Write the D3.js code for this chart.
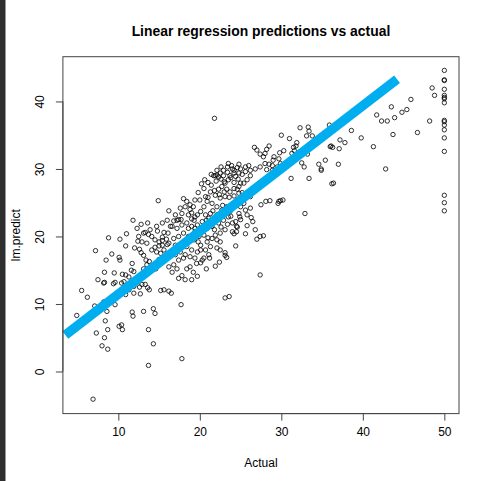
<!DOCTYPE html>
<html><head><meta charset="utf-8">
<script src="https://cdn.jsdelivr.net/npm/d3@7"></script>
<style>
body{margin:0;background:#fff}
svg{display:block}
text{font-family:"Liberation Sans",Arial,Helvetica,sans-serif;fill:#000}
</style>
</head><body>
<svg id="chart" width="482" height="481"></svg>
<script>
// Actual medv values (x) and linear-model predictions (y)
const actual = [
21.8,32.3,33.3,33.4,33.1,33.8,30.0,31.0,35.9,36.0,35.1,31.9,31.8,31.5,31.6,31.3,30.3,29.8,28.5,28.2,28.0,26.7,27.0,27.4,27.8,
29.1,29.0,29.7,29.9,28.5,28.9,29.5,33.2,32.5,32.8,34.6,34.9,35.4,23.5,23.4,24.0,24.8,25.0,22.9,
50,50,50,50,50,50,50,50,50,50,50,50,50,50,50,50,50,
48.5,48.8,45.9,45.4,44.8,43.5,43.9,43.0,42.3,41.7,48.2,46.7,43.7,41.3,39.8,38.6,37.2,37.8,36.3,37.1,36.1,37.0,42.8,36.2,36.4,
31.2,33.4,34.9,26.2,27.5,28.1,28.6,29.6,29.9,30.2,29.7,32.9,26.2,26.3,26.5,27.0,27.4,27.8,27.4,21.9,19.7,
24.6,24.5,24.2,24.0,22.1,22.5,22.5,23.1,23.3,23.1,20.5,20.3,20.1,25.0,24.9,24.8,26.2,24.5,20.5,20.7,21.7,22.1,22.3,
14.9,11.8,18.4,19.4,7.2,8.5,10.9,10.1,10.2,8.3,9.5,7.5,8.3,9.6,11.7,11.6,11.9,10.9,10.5,11.3,10.7,
13.1,13.3,13.7,12.4,12.0,12.6,12.8,13.1,13.4,13.8,13.5,13.1,14.1,14.5,15.0,15.4,14.7,15.2,15.6,15.4,15.0,15.4,15.9,
16.1,16.4,16.8,17.4,17.7,18.8,19.0,19.2,19.4,16.2,16.8,17.4,18.0,16.6,17.2,17.8,18.4,18.8,19.2,18.2,17.4,19.0,
5.5,6.2,4.9,7.1,8.2,8.6,9.6,8.4,8.7,7.3,8.3,8.0,8.7,6.9,10.1,10.4,10.5,11.7,11.8,13.1,14.3,14.5,13.7,14.3,13.7,17.7,17.8,
11.9,12.7,15.2,15.6,16.2,16.5,13.3,13.6,13.8,10.4,9.4,8.2,10.9,11.3,11.9,12.6,12.9,23.1,23.6,
21.9,22.5,22.9,23.4,23.7,24.2,24.8,24.7,24.2,23.5,23.1,22.7,22.3,23.3,23.7,24.2,24.8,25.4,25.8,21.9,22.5,23.1,21.3,20.9,20.5,
21.5,22.1,20.1,20.7,19.7,21.1,20.3,19.7,21.5,22.3,22.9,23.5,23.7,24.0,23.1,22.5,21.9,20.5,19.9,20.9,20.1,21.3,20.7,19.7,
25.0,25.4,25.6,25.8,25.0,24.6,26.0,24.8,
18.8,18.2,17.8,18.6,19.3,17.2,16.6,17.2,17.8,18.4,19.0,19.4,18.0,18.6,19.3,17.4,16.8,16.2,17.0,17.8,18.4,19.0,17.6,18.2,17.0,
16.4,15.8,18.8,19.4,14.1,14.5,13.5,13.9,14.7,15.4,16.0,12.5,12.3,12.9,
28.0,27.4,26.8,26.2,25.6,28.9,28.2,24.2,22.1,
22.7,23.3,22.1,21.3,21.7,20.9,20.3,21.5,21.1,22.1,20.1,
21.0,21.4,22.0,22.6,23.0,23.8,24.4,25.2,25.6,26.0,24.6,23.9,22.6,21.4,20.6,20.2,19.8,20.0,21.0,21.8,22.4,23.0,23.6,24.2,24.6,
25.2,25.0,22.8,23.4,24.0,21.6,20.8,19.4,19.0,18.6,19.8,21.0,20.6,21.8,22.6,23.4,24.4,23.8,22.2,18.4,17.6,16.8,16.0,15.6,14.8,
17.0,17.6,18.0,16.2,13.6,12.8,11.0,10.2,9.2,8.8,14.6,15.0,19.6,20.8,22.4,21.2,24.4,25.6,25.8,26.8
];
const predicted = [
37.5,36.1,36.2,35.6,34.9,34.9,35.0,34.5,36.5,33.3,34.7,33.9,33.4,33.2,32.7,32.3,32.7,32.4,33.4,32.9,32.3,33.2,32.8,32.2,31.8,
31.8,31.3,31.5,30.8,30.7,30.5,30.3,32.2,30.9,30.3,30.7,30.0,31.3,30.8,30.3,30.0,30.7,30.0,29.8,
44.6,43.2,43.1,41.8,40.9,40.6,40.4,39.8,37.2,37.0,36.5,35.8,34.6,32.6,26.1,25.0,23.8,
42.0,40.9,40.3,38.8,38.4,39.2,37.6,37.1,37.1,38.0,37.1,35.4,35.1,33.3,34.6,35.7,34.3,33.9,33.2,33.0,33.4,30.7,30.0,27.8,27.9,
28.6,28.6,29.8,29.0,24.7,25.2,25.3,24.9,25.3,25.4,25.2,23.4,24.2,22.8,22.2,19.6,20.0,20.1,14.3,15.6,14.1,
21.4,20.7,20.4,20.7,19.5,19.2,18.0,17.6,16.9,17.2,16.8,16.5,16.1,22.5,22.9,23.4,25.9,21.5,27.1,25.9,29.0,29.1,28.8,
25.3,22.4,25.2,25.4,17.9,16.5,18.6,16.9,16.5,14.7,14.6,13.6,13.2,13.2,16.0,15.0,14.8,14.3,14.4,14.0,13.3,
20.5,20.6,20.3,19.3,18.3,18.1,17.6,17.2,16.5,16.3,15.8,15.2,18.0,18.4,18.6,18.7,17.7,17.5,18.0,19.9,19.2,19.4,19.6,
20.5,21.5,22.3,22.5,22.5,24.0,23.5,24.4,22.9,15.5,15.8,16.5,16.8,14.7,15.2,14.2,15.2,15.5,14.7,13.6,13.8,13.6,
12.0,11.0,8.3,9.7,10.3,8.9,9.9,7.5,6.2,5.7,5.0,3.8,3.3,-4.1,6.7,6.9,6.2,8.8,8.2,8.9,9.3,8.6,6.2,4.1,0.9,9.9,1.9,
11.6,11.5,12.0,12.1,11.9,11.6,12.9,12.4,12.1,13.1,13.0,13.1,11.4,12.1,12.6,12.5,12.9,10.9,11.1,
29.0,29.4,29.0,29.5,29.0,29.4,29.4,28.5,28.0,28.4,27.9,27.4,27.0,27.0,26.6,27.1,27.4,27.9,28.4,26.1,25.7,25.9,26.6,25.2,24.4,
24.9,24.4,23.7,23.2,23.2,22.7,22.2,21.7,21.5,22.0,22.4,22.9,23.7,22.0,21.0,20.5,20.2,20.2,20.0,19.2,18.7,18.5,18.0,17.7,
25.5,24.9,23.9,23.2,24.4,25.2,26.1,26.4,
24.7,24.4,23.4,23.2,22.4,22.4,21.5,21.2,21.7,22.0,21.5,20.7,20.5,20.0,19.5,20.0,19.7,19.0,18.7,19.0,18.5,18.0,17.7,17.3,17.3,
17.5,16.8,17.0,16.8,20.0,19.5,19.0,21.0,21.5,22.0,22.4,20.0,21.2,19.2,
30.8,30.3,30.0,29.8,30.3,29.8,29.9,29.8,29.8,
23.9,24.4,23.2,23.4,22.4,21.2,20.7,19.7,17.3,18.3,18.0,
28.0,27.6,28.2,28.5,28.1,28.7,28.9,29.2,29.6,30.5,30.2,30.5,30.3,29.2,28.4,27.8,26.5,25.4,25.8,26.8,26.2,26.6,25.8,26.0,27.0,
26.5,27.9,24.6,24.2,24.8,23.8,22.4,21.2,22.6,21.2,19.2,19.8,21.0,21.0,21.4,21.8,22.2,23.0,23.0,19.4,18.4,18.0,18.8,20.6,20.8,
23.2,24.2,25.6,23.8,22.0,21.8,20.4,19.6,17.4,19.8,15.2,16.6,16.0,15.2,16.2,16.8,18.6,20.4,21.6,21.0
];
const xTicks = [10, 20, 30, 40, 50];
const yTicks = [0, 10, 20, 30, 40];
const xDataRange = [5, 50];
const yDataRange = [-4.28, 44.67];
const refLineX = [3.5, 44.2];
const refLineY = [5.4, 43.3];

const svg = d3.select("#chart");
const W = 482, H = 481;
const box = {left: 62.9, right: 459, top: 56.7, bottom: 413.6};

function ext(r){ const d = (r[1]-r[0])*0.04; return [r[0]-d, r[1]+d]; }
const x = d3.scaleLinear().domain(ext(xDataRange)).range([box.left, box.right]);
const y = d3.scaleLinear().domain(ext(yDataRange)).range([box.bottom, box.top]);

// screenshot left edge strip
svg.append("rect").attr("x",0).attr("y",0).attr("width",5.5).attr("height",H).attr("fill","#2e2e2e");

// points
const pts = actual.map((a,i)=>({a, p: predicted[i]}));
svg.append("g").selectAll("circle").data(pts).join("circle")
  .attr("cx", d=>x(d.a)).attr("cy", d=>y(d.p)).attr("r", 2.2)
  .attr("fill","none").attr("stroke","#000").attr("stroke-width",0.8);

// reference line
svg.append("line")
  .attr("x1", x(refLineX[0])).attr("y1", y(refLineY[0]))
  .attr("x2", x(refLineX[1])).attr("y2", y(refLineY[1]))
  .attr("stroke","#00AEEF").attr("stroke-width",9.5).attr("stroke-linecap","butt");

// box
svg.append("rect").attr("x",box.left).attr("y",box.top)
  .attr("width",box.right-box.left).attr("height",box.bottom-box.top)
  .attr("fill","none").attr("stroke","#444").attr("stroke-width",1);

// x axis
const gx = svg.append("g").attr("transform",`translate(0,${box.bottom})`)
  .call(d3.axisBottom(x).tickValues(xTicks).tickSize(7).tickPadding(7).tickSizeOuter(0));
gx.select(".domain").attr("d", `M${x(xTicks[0])},0H${x(xTicks[xTicks.length-1])}`).attr("stroke","#444");
gx.selectAll(".tick line").attr("stroke","#444");
gx.selectAll("text").attr("font-size",12).style("font-family","Liberation Sans, Arial, sans-serif").attr("fill","#000");

// y axis
const gy = svg.append("g").attr("transform",`translate(${box.left},0)`)
  .call(d3.axisLeft(y).tickValues(yTicks).tickSize(7).tickSizeOuter(0));
gy.select(".domain").attr("d", `M0,${y(yTicks[0])}V${y(yTicks[yTicks.length-1])}`).attr("stroke","#444");
gy.selectAll(".tick line").attr("stroke","#444");
gy.selectAll("text").attr("font-size",12).style("font-family","Liberation Sans, Arial, sans-serif").attr("fill","#000")
  .attr("x",null).attr("dy",null).attr("text-anchor","middle")
  .attr("transform","translate(-19,0) rotate(-90)");

// titles
svg.append("text").attr("x",(box.left+box.right)/2).attr("y",36).attr("text-anchor","middle")
  .attr("font-size",13.9).attr("font-weight","bold").text("Linear regression predictions vs actual");
svg.append("text").attr("x",(box.left+box.right)/2).attr("y",467).attr("text-anchor","middle")
  .attr("font-size",12).text("Actual");
svg.append("text").attr("transform",`translate(20,${(box.top+box.bottom)/2}) rotate(-90)`)
  .attr("text-anchor","middle").attr("font-size",12).text("lm.predict");
</script>
</body></html>
